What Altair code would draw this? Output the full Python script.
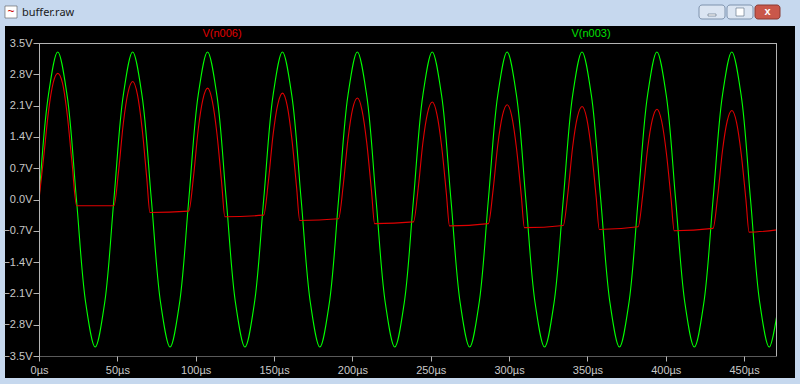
import altair as alt
import pandas as pd

# ---- data ----
green_t = [0, 5.98, 11.95, 17.93, 23.9, 29.88, 35.85, 41.83,
           47.8, 53.78, 59.75, 65.73, 71.7, 77.68, 83.65, 89.63,
           95.6, 101.58, 107.55, 113.53, 119.5, 125.48, 131.45, 137.43,
           143.4, 149.38, 155.35, 161.33, 167.3, 173.28, 179.25, 185.23,
           191.2, 197.18, 203.15, 209.13, 215.1, 221.08, 227.05, 233.03,
           239.0, 244.98, 250.95, 256.93, 262.9, 268.88, 274.85, 280.83,
           286.8, 292.78, 298.75, 304.73, 310.7, 316.68, 322.65, 328.63,
           334.6, 340.58, 346.55, 352.53, 358.5, 364.48, 370.45, 376.43,
           382.4, 388.38, 394.35, 400.33, 406.3, 412.28, 418.25, 424.23,
           430.2, 436.18, 442.15, 448.13, 454.1, 460.08, 466.05, 472.03]
green_v = [0, 2.33, 3.3, 2.33, 0, -2.33, -3.3, -2.33,
           0, 2.33, 3.3, 2.33, 0, -2.33, -3.3, -2.33,
           0, 2.33, 3.3, 2.33, 0, -2.33, -3.3, -2.33,
           0, 2.33, 3.3, 2.33, 0, -2.33, -3.3, -2.33,
           0, 2.33, 3.3, 2.33, 0, -2.33, -3.3, -2.33,
           0, 2.33, 3.3, 2.33, 0, -2.33, -3.3, -2.33,
           0, 2.33, 3.3, 2.33, 0, -2.33, -3.3, -2.33,
           0, 2.33, 3.3, 2.33, 0, -2.33, -3.3, -2.33,
           0, 2.33, 3.3, 2.33, 0, -2.33, -3.3, -2.33,
           0, 2.33, 3.3, 2.33, 0, -2.33, -3.3, -2.33]

red_t = [0, 3, 6, 9, 12, 15, 18, 21, 24,
         47.8, 50.8, 53.8, 56.8, 59.8, 62.8, 65.8, 68.8, 70.8,
         95.6, 98.6, 101.6, 104.6, 107.6, 110.6, 113.6, 116.6, 118.6,
         143.4, 146.4, 149.4, 152.4, 155.4, 158.4, 161.4, 164.4, 166.4,
         191.2, 194.2, 197.2, 200.2, 203.2, 206.2, 209.2, 212.2, 214.2,
         239.0, 242.0, 245.0, 248.0, 251.0, 254.0, 257.0, 260.0, 262.0,
         286.8, 289.8, 292.8, 295.8, 298.8, 301.8, 304.8, 307.8, 309.8,
         334.6, 337.6, 340.6, 343.6, 346.6, 349.6, 352.6, 355.6, 357.6,
         382.4, 385.4, 388.4, 391.4, 394.4, 397.4, 400.4, 403.4, 405.4,
         430.2, 433.2, 436.2, 439.2, 442.2, 445.2, 448.2, 451.2, 453.2,
         471]
red_v = [0, 0.95, 1.95, 2.6, 2.82, 2.6, 1.9, 0.85, -0.14,
         -0.14, 0.64, 1.70, 2.39, 2.64, 2.35, 1.59, 0.47, -0.29,
         -0.26, 0.51, 1.56, 2.24, 2.49, 2.20, 1.46, 0.36, -0.385,
         -0.35, 0.41, 1.45, 2.13, 2.38, 2.10, 1.35, 0.27, -0.47,
         -0.43, 0.33, 1.35, 2.03, 2.27, 1.99, 1.26, 0.19, -0.54,
         -0.50, 0.25, 1.27, 1.94, 2.18, 1.90, 1.18, 0.13, -0.59,
         -0.54, 0.21, 1.22, 1.88, 2.12, 1.85, 1.13, 0.09, -0.63,
         -0.58, 0.16, 1.18, 1.84, 2.08, 1.81, 1.09, 0.05, -0.67,
         -0.61, 0.13, 1.13, 1.78, 2.02, 1.75, 1.04, 0.01, -0.70,
         -0.645, 0.09, 1.09, 1.75, 1.99, 1.72, 1.01, -0.02, -0.73,
         -0.68]

y_ticks = [-3.5, -2.8, -2.1, -1.4, -0.7, 0.0, 0.7, 1.4, 2.1, 2.8, 3.5]
x_ticks = [0, 50, 100, 150, 200, 250, 300, 350, 400, 450]
series_names = ["V(n006)", "V(n003)"]
series_colors = ["#e00000", "#00ff00"]
window_title = "buffer.raw"

W, H = 738, 313
FONT = "Liberation Sans"
GRAY = "#b4b4b4"

green_df = pd.DataFrame({"t": green_t, "v": green_v})
red_df = pd.DataFrame({"t": red_t, "v": red_v})

xscale = alt.Scale(domain=[0, 471], nice=False, zero=False)
yscale = alt.Scale(domain=[-3.5, 3.5], nice=False, zero=False)

xaxis = alt.Axis(values=x_ticks, labelExpr="datum.value + 'µs'", grid=False,
                 domainColor=GRAY, domainDash=[1, 1], tickColor=GRAY, tickSize=5,
                 labelColor="#c8c8c8", labelFont=FONT, labelFontSize=11,
                 labelPadding=3, title=None, zindex=2, labelFlush=False,
                 labelOverlap=False)
yaxis = alt.Axis(values=y_ticks, labelExpr="format(datum.value, '.1f') + 'V'", grid=False,
                 domainColor=GRAY, tickColor=GRAY, tickSize=6,
                 labelColor="#c8c8c8", labelFont=FONT, labelFontSize=11,
                 labelPadding=1, title=None, zindex=2, labelFlush=False,
                 labelOverlap=False)

one = pd.DataFrame({"a": [0]})

panel = alt.Chart(one).mark_rect(color="#000000").encode(
    x=alt.value(-34), x2=alt.value(756), y=alt.value(-17), y2=alt.value(335))

green = alt.Chart(green_df).mark_line(
    color=series_colors[1], strokeWidth=1.1, interpolate="catmull-rom", clip=True
).encode(x=alt.X("t:Q", scale=xscale, axis=xaxis),
         y=alt.Y("v:Q", scale=yscale, axis=yaxis))

red = alt.Chart(red_df).mark_line(
    color=series_colors[0], strokeWidth=1.1, interpolate="monotone", clip=True
).encode(x=alt.X("t:Q", scale=xscale, axis=xaxis),
         y=alt.Y("v:Q", scale=yscale, axis=yaxis))

frame_top = alt.Chart(one).mark_rule(color=GRAY, strokeWidth=1).encode(
    x=alt.value(0), x2=alt.value(W), y=alt.value(0.5))
frame_right = alt.Chart(one).mark_rule(color=GRAY, strokeWidth=1).encode(
    x=alt.value(W - 0.5), y=alt.value(0), y2=alt.value(H))

lab_red = alt.Chart(one).mark_text(
    text=series_names[0], color="#e00000", font=FONT, fontSize=11,
    align="center", baseline="middle").encode(x=alt.value(183), y=alt.value(-9))
lab_green = alt.Chart(one).mark_text(
    text=series_names[1], color="#00e000", font=FONT, fontSize=11,
    align="center", baseline="middle").encode(x=alt.value(552), y=alt.value(-9))

title = alt.Chart(one).mark_text(
    text=window_title, color="#1a1a1a", font="Noto Sans", fontSize=11,
    align="left", baseline="middle").encode(x=alt.value(-17), y=alt.value(-30))

icon = alt.Chart(one).mark_rect(color="#ffffff", stroke="#555555", strokeWidth=0.6).encode(
    x=alt.value(-34), x2=alt.value(-22), y=alt.value(-37), y2=alt.value(-25))
icon_line = alt.Chart(pd.DataFrame({"t": [0]})).mark_text(
    text="~", color="#cc0000", fontSize=12, font=FONT,
    align="center", baseline="middle").encode(x=alt.value(-28), y=alt.value(-32))

btn_min = alt.Chart(one).mark_rect(color="#dbe5f2", stroke="#7f93ad", cornerRadius=3).encode(
    x=alt.value(660), x2=alt.value(686), y=alt.value(-38), y2=alt.value(-24))
btn_max = alt.Chart(one).mark_rect(color="#dbe5f2", stroke="#7f93ad", cornerRadius=3).encode(
    x=alt.value(688), x2=alt.value(714), y=alt.value(-38), y2=alt.value(-24))
btn_close = alt.Chart(one).mark_rect(color="#c9574a", stroke="#8a3a33", cornerRadius=3).encode(
    x=alt.value(716), x2=alt.value(741), y=alt.value(-38), y2=alt.value(-24))
btn_min_g = alt.Chart(one).mark_rect(color="#ffffff", stroke="#55657a", strokeWidth=0.6).encode(
    x=alt.value(669), x2=alt.value(677), y=alt.value(-29), y2=alt.value(-27))
btn_max_g = alt.Chart(one).mark_rect(color="#ffffff", stroke="#55657a", strokeWidth=0.6).encode(
    x=alt.value(697), x2=alt.value(705), y=alt.value(-35), y2=alt.value(-27))
btn_close_g = alt.Chart(one).mark_text(
    text="x", color="#ffffff", font=FONT, fontSize=11, fontWeight="bold",
    align="center", baseline="middle").encode(x=alt.value(728.5), y=alt.value(-31.5))

chart = alt.layer(
    panel, green, red, frame_top, frame_right, lab_red, lab_green,
    title, icon, icon_line, btn_min, btn_max, btn_close, btn_min_g, btn_max_g, btn_close_g
).properties(
    width=W, height=H,
    autosize=alt.AutoSizeParams(type="none"),
    padding={"left": 39, "top": 43, "right": 23, "bottom": 28},
    background="#c6d8ee",
).configure_view(stroke=None).configure_axis(labelOverlap=False)

chart.save("out.html", embed_options={"renderer": "svg", "actions": False})
